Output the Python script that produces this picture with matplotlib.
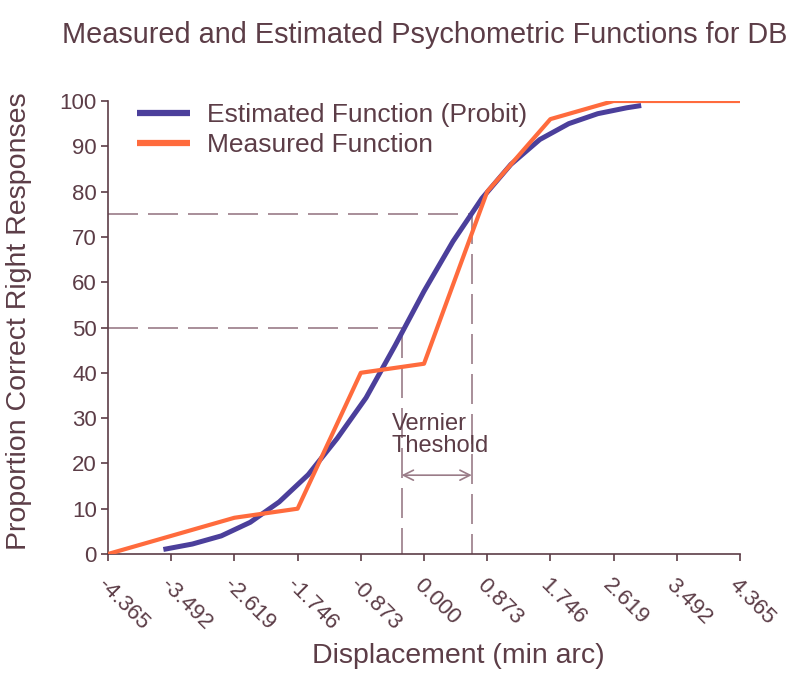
import matplotlib
matplotlib.use("Agg")
import matplotlib.pyplot as plt

plt.rcParams['font.family'] = ['Liberation Sans', 'DejaVu Sans']

# displacement ticks (min arc)
ticks = [-4.365, -3.492, -2.619, -1.746, -0.873, 0.000, 0.873, 1.746, 2.619, 3.492, 4.365]
tick_labels = ['-4.365', '-3.492', '-2.619', '-1.746', '-0.873', '0.000',
               '0.873', '1.746', '2.619', '3.492', '4.365']

# measured proportions at each displacement
measured = [0, 4, 8, 10, 40, 42, 80, 96, 100, 100, 100]

# probit fit, sampled along the curve
est_x = [-3.6, -3.2, -2.8, -2.4, -2.0, -1.6, -1.2, -0.8, -0.4, 0.0,
         0.4, 0.8, 1.2, 1.6, 2.0, 2.4, 2.8, 3.0]
est_y = [1.0, 2.2, 4.0, 7.0, 11.5, 17.5, 25.5, 34.5, 46.0, 58.0,
         69.0, 78.5, 86.0, 91.5, 95.0, 97.2, 98.5, 99.0]

# 50% and 75% points on the fitted curve
x50, x75 = -0.31, 0.66

text_col = '#5c3d47'
dash_col = '#9a7c88'

fig = plt.figure(figsize=(7.91, 6.75), dpi=100)
ax = fig.add_axes([108/791, 1-554/675, 632/791, 453/675])

ax.plot(est_x, est_y, color='#4b3f9b', lw=3.6, solid_capstyle='butt',
        label='Estimated Function (Probit)', zorder=3)
ax.plot(ticks, measured, color='#ff6b3d', lw=3.0, solid_capstyle='butt',
        label='Measured Function', zorder=4)

# threshold guides
dash = dict(color=dash_col, lw=1.2, dashes=(18, 6), zorder=2)
ax.plot([ticks[0], x75], [75, 75], **dash)
ax.plot([x75, x75], [75, 0], **dash)
ax.plot([ticks[0], x50], [50, 50], **dash)
ax.plot([x50, x50], [50, 0], **dash)

ax.annotate('', xy=(x50, 17.4), xytext=(x75, 17.4),
            arrowprops=dict(arrowstyle='<->', color=dash_col, lw=1.2,
                            mutation_scale=18, shrinkA=0, shrinkB=0))
ax.text(-0.45, 21.5, 'Vernier\nTheshold', fontsize=17, color=text_col,
        ha='left', va='bottom', linespacing=1.0)

ax.set_xlim(ticks[0], ticks[-1])
ax.set_ylim(0, 100)
ax.set_xticks(ticks)
ax.set_xticklabels(tick_labels, rotation=-45, ha='left', va='top',
                   rotation_mode='anchor')
ax.set_yticks(range(0, 101, 10))

for s in ['top', 'right']:
    ax.spines[s].set_visible(False)
for s in ['left', 'bottom']:
    ax.spines[s].set_color(text_col)
    ax.spines[s].set_linewidth(1.2)
ax.tick_params(axis='both', colors=text_col, labelcolor=text_col,
               labelsize=16, length=5, width=1.2)
ax.tick_params(axis='x', pad=10)
ax.tick_params(axis='y', pad=3)

ax.set_ylabel('Proportion Correct Right Responses', fontsize=20.5, color=text_col)
ax.yaxis.set_label_coords(-0.12, 0.513)
ax.set_xlabel('Displacement (min arc)', fontsize=20.5, color=text_col)
ax.xaxis.set_label_coords(0.554, -0.197)

leg = ax.legend(loc='upper left', bbox_to_anchor=(0.046, 0.996), frameon=False,
                fontsize=19, handlelength=2.0, handletextpad=0.65,
                labelspacing=0.25, borderpad=0, borderaxespad=0)
for t in leg.get_texts():
    t.set_color(text_col)
for h in leg.get_lines():
    h.set_linewidth(4.5)

fig.text(62/791, 1-35/675, 'Measured and Estimated Psychometric Functions for DB',
         fontsize=20.8, color=text_col, ha='left', va='center')

fig.savefig('out.png', dpi=100, facecolor='white')
